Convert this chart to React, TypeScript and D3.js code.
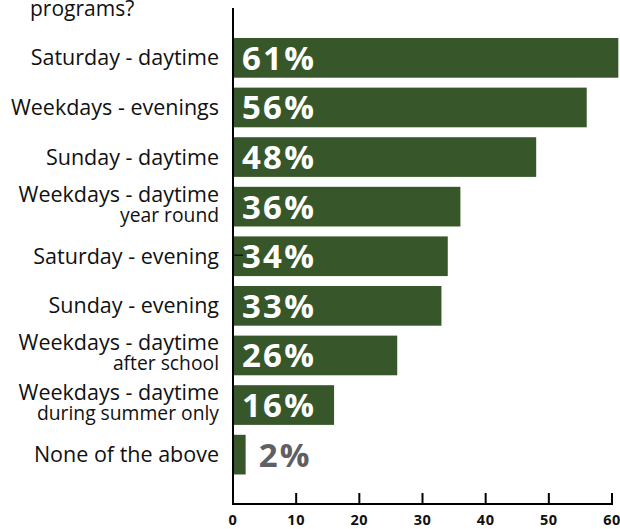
import React from "react";
import * as d3 from "d3";

const categories = [
  "Saturday - daytime",
  "Weekdays - evenings",
  "Sunday - daytime",
  "Weekdays - daytime|year round",
  "Saturday - evening",
  "Sunday - evening",
  "Weekdays - daytime|after school",
  "Weekdays - daytime|during summer only",
  "None of the above",
];
const values = [61, 56, 48, 36, 34, 33, 26, 16, 2];
const xTicks = [0, 10, 20, 30, 40, 50, 60];
const titleText = "programs?";

const W = 620;
const H = 529;
const BAR = "#37572a";
const FONT = "'Open Sans', sans-serif";

export default function App() {
  const x = d3.scaleLinear().domain([0, 60]).range([233, 612]);
  const y = d3
    .scaleBand<string>()
    .domain(categories)
    .range([28.1, 484.4])
    .paddingInner(0.2)
    .paddingOuter(0.2);
  const axisY = 504;

  return (
    <svg
      width={W}
      height={H}
      style={{ position: "absolute", left: 0, top: 0 }}
      fontFamily={FONT}
    >
      <text x={30} y={16} fontSize={21} fill="#111">
        {titleText}
      </text>
      {categories.map((c, i) => {
        const y0 = y(c)!;
        const bw = y.bandwidth();
        const cy = y0 + bw / 2;
        const parts = c.split("|");
        const v = values[i];
        const inside = v >= 10;
        return (
          <g key={c}>
            <rect x={x(0)} y={y0} width={x(v) - x(0)} height={bw} fill={BAR} />
            {parts.length === 1 ? (
              <text x={219} y={cy + 7.5} fontSize={21.5} textAnchor="end" fill="#111">
                {parts[0]}
              </text>
            ) : (
              <>
                <text x={219} y={cy - 5} fontSize={21.5} textAnchor="end" fill="#111">
                  {parts[0]}
                </text>
                <text x={219} y={cy + 15} fontSize={19.3} textAnchor="end" fill="#111">
                  {parts[1]}
                </text>
              </>
            )}
            <text
              x={inside ? x(0) + 9 : x(v) + 13}
              y={cy + 12}
              fontSize={33}
              fontWeight={700}
              letterSpacing={2.2}
              fill={inside ? "#fff" : "#606062"}
            >
              {v + "%"}
            </text>
          </g>
        );
      })}
      {/* stray tick */}
      <line x1={232} x2={243} y1={y(categories[4])! + y.bandwidth() / 2 - 1} y2={y(categories[4])! + y.bandwidth() / 2 - 1} stroke="#111" strokeWidth={1.5} />
      {/* axes */}
      <line x1={x(0)} x2={x(0)} y1={8} y2={axisY + 1} stroke="#000" strokeWidth={2} />
      <line x1={x(0) - 1} x2={x(60) + 1} y1={axisY} y2={axisY} stroke="#000" strokeWidth={2} />
      {xTicks.map((t) => (
        <g key={t}>
          <line x1={x(t)} x2={x(t)} y1={axisY} y2={axisY - 11} stroke="#000" strokeWidth={2} />
          <text x={x(t)} y={525} fontSize={14.5} fontWeight={700} letterSpacing={0.5} textAnchor="middle" fill="#111">
            {t}
          </text>
        </g>
      ))}
    </svg>
  );
}
